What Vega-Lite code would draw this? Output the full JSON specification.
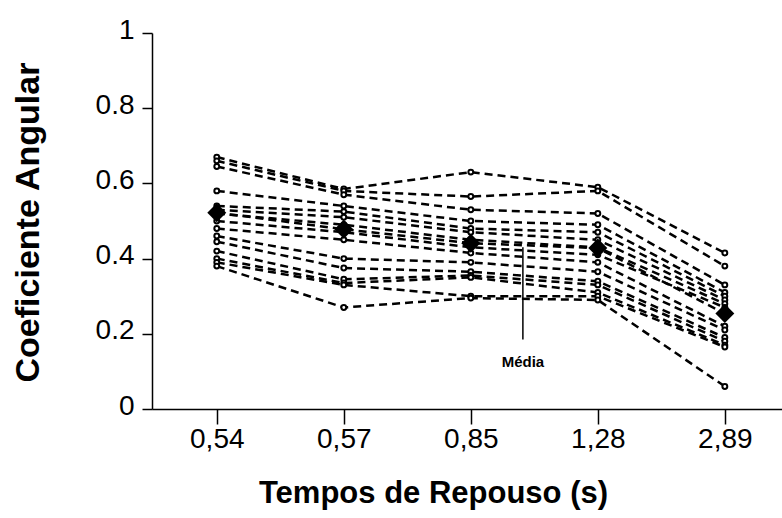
{
  "$schema": "https://vega.github.io/schema/vega-lite/v6.json",
  "width": 630,
  "height": 376,
  "autosize": {"type": "none"},
  "padding": {"left": 152, "top": 33, "right": 0, "bottom": 109},
  "background": "white",
  "config": {
    "view": {"stroke": null},
    "font": "Liberation Sans",
    "axis": {"grid": false, "domainColor": "black", "tickColor": "black", "labelColor": "black", "titleColor": "black", "labelFont": "Liberation Sans", "titleFont": "Liberation Sans", "domainWidth": 1.5, "tickWidth": 1.5}
  },
  "datasets": {
    "sujeitos": [
      {"sujeito": "s1", "tempo": 0, "valor": 0.67}, {"sujeito": "s1", "tempo": 1, "valor": 0.585}, {"sujeito": "s1", "tempo": 2, "valor": 0.63}, {"sujeito": "s1", "tempo": 3, "valor": 0.59}, {"sujeito": "s1", "tempo": 4, "valor": 0.415},
      {"sujeito": "s2", "tempo": 0, "valor": 0.66}, {"sujeito": "s2", "tempo": 1, "valor": 0.58}, {"sujeito": "s2", "tempo": 2, "valor": 0.565}, {"sujeito": "s2", "tempo": 3, "valor": 0.58}, {"sujeito": "s2", "tempo": 4, "valor": 0.38},
      {"sujeito": "s3", "tempo": 0, "valor": 0.645}, {"sujeito": "s3", "tempo": 1, "valor": 0.57}, {"sujeito": "s3", "tempo": 2, "valor": 0.53}, {"sujeito": "s3", "tempo": 3, "valor": 0.52}, {"sujeito": "s3", "tempo": 4, "valor": 0.33},
      {"sujeito": "s4", "tempo": 0, "valor": 0.58}, {"sujeito": "s4", "tempo": 1, "valor": 0.54}, {"sujeito": "s4", "tempo": 2, "valor": 0.5}, {"sujeito": "s4", "tempo": 3, "valor": 0.49}, {"sujeito": "s4", "tempo": 4, "valor": 0.31},
      {"sujeito": "s5", "tempo": 0, "valor": 0.54}, {"sujeito": "s5", "tempo": 1, "valor": 0.525}, {"sujeito": "s5", "tempo": 2, "valor": 0.48}, {"sujeito": "s5", "tempo": 3, "valor": 0.47}, {"sujeito": "s5", "tempo": 4, "valor": 0.3},
      {"sujeito": "s6", "tempo": 0, "valor": 0.53}, {"sujeito": "s6", "tempo": 1, "valor": 0.51}, {"sujeito": "s6", "tempo": 2, "valor": 0.47}, {"sujeito": "s6", "tempo": 3, "valor": 0.45}, {"sujeito": "s6", "tempo": 4, "valor": 0.29},
      {"sujeito": "s7", "tempo": 0, "valor": 0.52}, {"sujeito": "s7", "tempo": 1, "valor": 0.49}, {"sujeito": "s7", "tempo": 2, "valor": 0.45}, {"sujeito": "s7", "tempo": 3, "valor": 0.43}, {"sujeito": "s7", "tempo": 4, "valor": 0.28},
      {"sujeito": "s8", "tempo": 0, "valor": 0.5}, {"sujeito": "s8", "tempo": 1, "valor": 0.47}, {"sujeito": "s8", "tempo": 2, "valor": 0.43}, {"sujeito": "s8", "tempo": 3, "valor": 0.41}, {"sujeito": "s8", "tempo": 4, "valor": 0.27},
      {"sujeito": "s9", "tempo": 0, "valor": 0.48}, {"sujeito": "s9", "tempo": 1, "valor": 0.45}, {"sujeito": "s9", "tempo": 2, "valor": 0.415}, {"sujeito": "s9", "tempo": 3, "valor": 0.39}, {"sujeito": "s9", "tempo": 4, "valor": 0.22},
      {"sujeito": "s10", "tempo": 0, "valor": 0.46}, {"sujeito": "s10", "tempo": 1, "valor": 0.4}, {"sujeito": "s10", "tempo": 2, "valor": 0.39}, {"sujeito": "s10", "tempo": 3, "valor": 0.365}, {"sujeito": "s10", "tempo": 4, "valor": 0.21},
      {"sujeito": "s11", "tempo": 0, "valor": 0.445}, {"sujeito": "s11", "tempo": 1, "valor": 0.375}, {"sujeito": "s11", "tempo": 2, "valor": 0.365}, {"sujeito": "s11", "tempo": 3, "valor": 0.34}, {"sujeito": "s11", "tempo": 4, "valor": 0.19},
      {"sujeito": "s12", "tempo": 0, "valor": 0.42}, {"sujeito": "s12", "tempo": 1, "valor": 0.345}, {"sujeito": "s12", "tempo": 2, "valor": 0.355}, {"sujeito": "s12", "tempo": 3, "valor": 0.33}, {"sujeito": "s12", "tempo": 4, "valor": 0.18},
      {"sujeito": "s13", "tempo": 0, "valor": 0.4}, {"sujeito": "s13", "tempo": 1, "valor": 0.335}, {"sujeito": "s13", "tempo": 2, "valor": 0.35}, {"sujeito": "s13", "tempo": 3, "valor": 0.31}, {"sujeito": "s13", "tempo": 4, "valor": 0.17},
      {"sujeito": "s14", "tempo": 0, "valor": 0.39}, {"sujeito": "s14", "tempo": 1, "valor": 0.33}, {"sujeito": "s14", "tempo": 2, "valor": 0.3}, {"sujeito": "s14", "tempo": 3, "valor": 0.3}, {"sujeito": "s14", "tempo": 4, "valor": 0.165},
      {"sujeito": "s15", "tempo": 0, "valor": 0.38}, {"sujeito": "s15", "tempo": 1, "valor": 0.27}, {"sujeito": "s15", "tempo": 2, "valor": 0.295}, {"sujeito": "s15", "tempo": 3, "valor": 0.29}, {"sujeito": "s15", "tempo": 4, "valor": 0.06}
    ],
    "media": [
      {"tempo": 0, "valor": 0.522}, {"tempo": 1, "valor": 0.478}, {"tempo": 2, "valor": 0.441}, {"tempo": 3, "valor": 0.428}, {"tempo": 4, "valor": 0.254}
    ],
    "anotacao": [
      {"tempo": 2.41, "valor": 0.43, "valor2": 0.185, "rotulo": "Média", "texto_y": 0.125}
    ]
  },
  "encoding": {
    "x": {
      "field": "tempo", "type": "quantitative",
      "scale": {"domain": [-0.51, 4.45], "nice": false, "zero": false},
      "axis": {
        "values": [0, 1, 2, 3, 4],
        "labelExpr": "['0,54','0,57','0,85','1,28','2,89'][datum.value]",
        "tickSize": 15, "labelFontSize": 28, "labelPadding": 1,
        "title": "Tempos de Repouso (s)", "titleFontSize": 31, "titleFontWeight": "bold",
        "titleX": 281, "titleY": 84, "titleBaseline": "middle"
      }
    },
    "y": {
      "field": "valor", "type": "quantitative",
      "scale": {"domain": [0, 1], "nice": false},
      "axis": {
        "values": [0, 0.2, 0.4, 0.6, 0.8, 1],
        "format": "~g",
        "tickSize": 10, "labelFontSize": 28, "labelPadding": 8, "labelOffset": -3,
        "title": "Coeficiente Angular", "titleFontSize": 34, "titleFontWeight": "bold",
        "titleX": -124, "titleY": 189, "titleAngle": -90, "titleBaseline": "middle", "titleAlign": "center"
      }
    }
  },
  "layer": [
    {
      "data": {"name": "sujeitos"},
      "mark": {"type": "line", "color": "black", "strokeWidth": 2.5, "strokeDash": [8, 5]},
      "encoding": {"detail": {"field": "sujeito"}}
    },
    {
      "data": {"name": "sujeitos"},
      "mark": {"type": "point", "shape": "circle", "size": 24, "filled": true, "fill": "white", "stroke": "black", "strokeWidth": 2, "opacity": 1}
    },
    {
      "data": {"name": "media"},
      "mark": {"type": "line", "color": "black", "strokeWidth": 2.5, "strokeDash": [8, 5]}
    },
    {
      "data": {"name": "media"},
      "mark": {"type": "point", "shape": "diamond", "size": 360, "filled": true, "color": "black", "opacity": 1}
    },
    {
      "data": {"name": "anotacao"},
      "mark": {"type": "rule", "color": "black", "strokeWidth": 1.5},
      "encoding": {"y2": {"field": "valor2"}}
    },
    {
      "data": {"name": "anotacao"},
      "mark": {"type": "text", "fontSize": 15, "fontWeight": "bold", "color": "black", "align": "center", "baseline": "middle"},
      "encoding": {"y": {"field": "texto_y", "type": "quantitative"}, "text": {"field": "rotulo"}}
    }
  ]
}
